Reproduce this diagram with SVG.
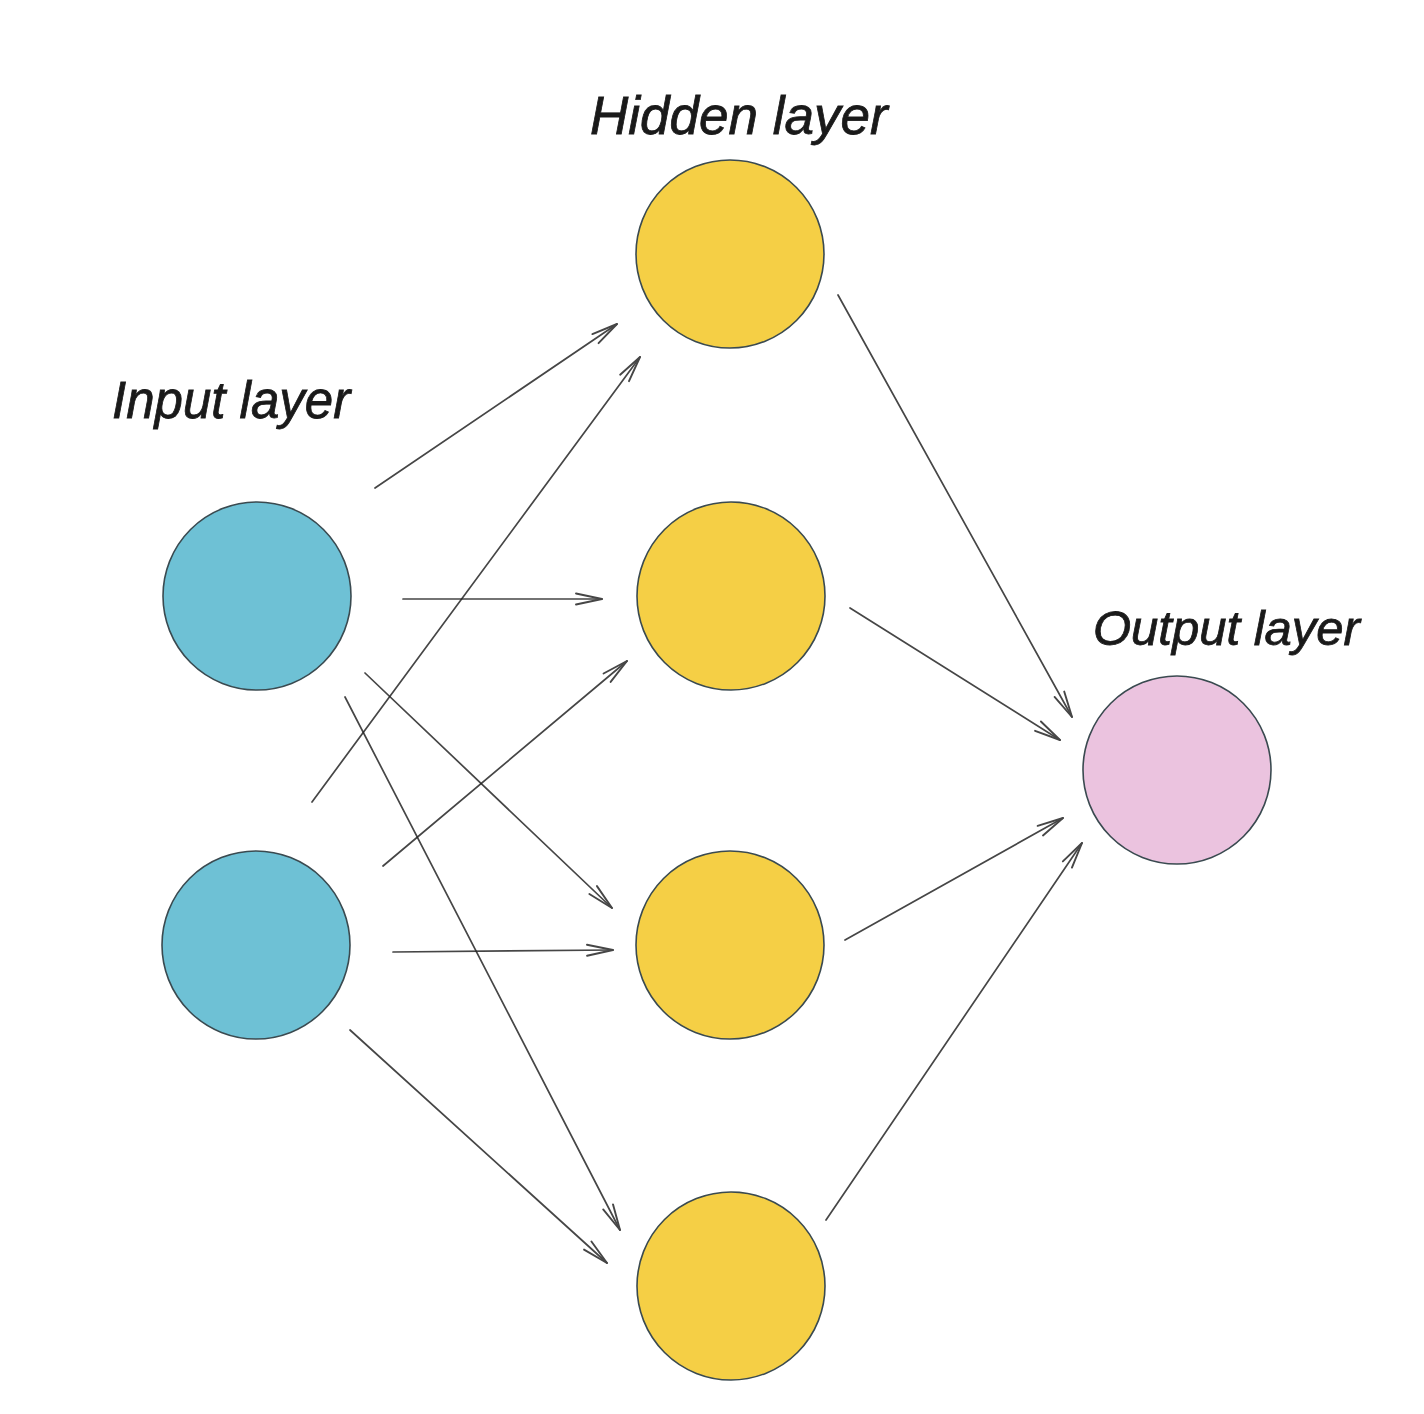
<svg xmlns="http://www.w3.org/2000/svg" width="1424" height="1414" viewBox="0 0 1424 1414">
<style>
.bg{fill:#ffffff}
.node{stroke:#3a4a50;stroke-width:1.6}
.in{fill:#6EC1D5}
.hid{fill:#F5CF45}
.out{fill:#EBC3DF}
.edge{stroke:#262626;stroke-width:1.7;fill:none;stroke-linecap:round;opacity:0.85}
.lbl{font-family:"Liberation Sans","DejaVu Sans",sans-serif;font-style:italic;fill:#1a1a1a;stroke:#1a1a1a;stroke-width:0.8}
</style>
<defs>
<marker id="arr" markerUnits="userSpaceOnUse" markerWidth="32" markerHeight="16" refX="28" refY="8" orient="auto">
<path d="M2,2.5 L28,8 L2,13.5" fill="none" stroke="#262626" stroke-width="1.9" stroke-linecap="round" stroke-linejoin="round"/>
</marker>
</defs>
<rect class="bg" x="0" y="0" width="1424" height="1414"/>
<g id="connectors">
<line class="edge" x1="375" y1="488" x2="617" y2="324" marker-end="url(#arr)"/>
<line class="edge" x1="312" y1="802" x2="640" y2="357" marker-end="url(#arr)"/>
<line class="edge" x1="403" y1="599" x2="602" y2="599" marker-end="url(#arr)"/>
<line class="edge" x1="383" y1="866" x2="627" y2="661" marker-end="url(#arr)"/>
<line class="edge" x1="365" y1="673" x2="612" y2="908" marker-end="url(#arr)"/>
<line class="edge" x1="393" y1="952" x2="613" y2="950" marker-end="url(#arr)"/>
<line class="edge" x1="345" y1="697" x2="620" y2="1230" marker-end="url(#arr)"/>
<line class="edge" x1="350" y1="1030" x2="607" y2="1263" marker-end="url(#arr)"/>
<line class="edge" x1="838" y1="295" x2="1072" y2="717" marker-end="url(#arr)"/>
<line class="edge" x1="850" y1="608" x2="1060" y2="740" marker-end="url(#arr)"/>
<line class="edge" x1="845" y1="940" x2="1063" y2="818" marker-end="url(#arr)"/>
<line class="edge" x1="826" y1="1220" x2="1082" y2="843" marker-end="url(#arr)"/>
</g>
<g id="input-label"><text class="lbl" x="112" y="418" font-size="51">Input layer</text></g>
<g id="hidden-label"><text class="lbl" x="590" y="134" font-size="53">Hidden layer</text></g>
<g id="output-label"><text class="lbl" x="1093" y="645" font-size="49">Output layer</text></g>
<g id="input1"><circle class="node in" cx="257" cy="596" r="94"/></g>
<g id="input2"><circle class="node in" cx="256" cy="945" r="94"/></g>
<g id="hidden1"><circle class="node hid" cx="730" cy="254" r="94"/></g>
<g id="hidden2"><circle class="node hid" cx="731" cy="596" r="94"/></g>
<g id="hidden3"><circle class="node hid" cx="730" cy="945" r="94"/></g>
<g id="hidden4"><circle class="node hid" cx="731" cy="1286" r="94"/></g>
<g id="output1"><circle class="node out" cx="1177" cy="770" r="94"/></g>
</svg>
